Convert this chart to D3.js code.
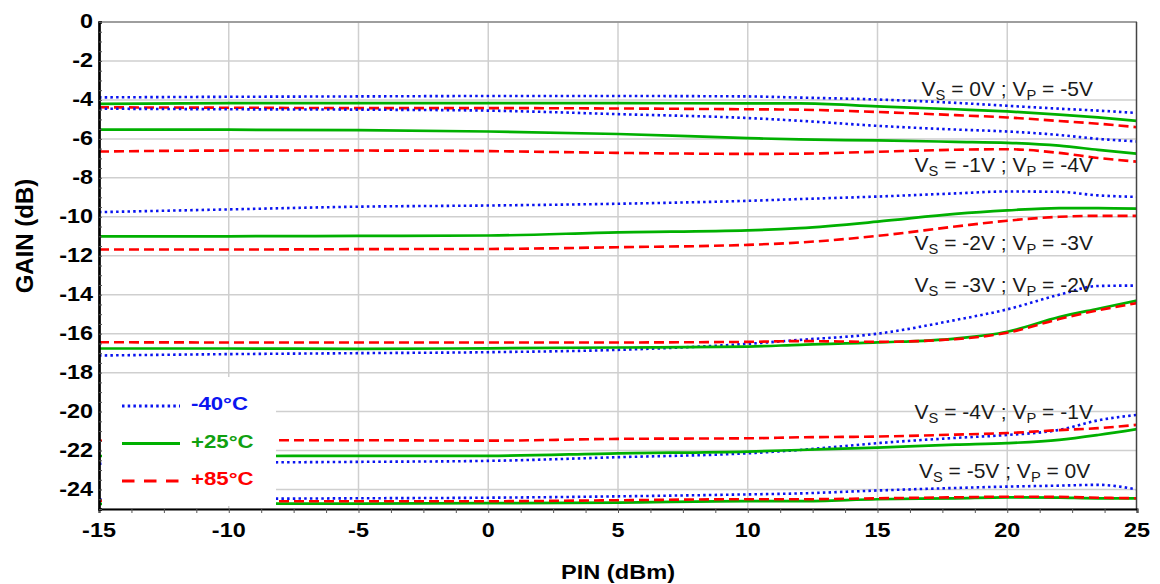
<!DOCTYPE html>
<html>
<head>
<meta charset="utf-8">
<script src="https://cdn.jsdelivr.net/npm/d3@7"></script>
<style>
  html, body { margin: 0; padding: 0; background: #fff; }
  svg { display: block; }
  text { font-family: "Liberation Sans", Arial, sans-serif; }
</style>
</head>
<body>
<svg id="chart" width="1160" height="584"></svg>
<script>
// ---------- data ----------
const pin = [-15, -10, -5, 0, 5, 10, 12, 15, 18, 20, 22, 23.5, 25];

const xTicks = [-15, -10, -5, 0, 5, 10, 15, 20, 25];
const yTicks = [0, -2, -4, -6, -8, -10, -12, -14, -16, -18, -20, -22, -24];

const temps = ["-40°C", "+25°C", "+85°C"];

// gain (dB) per state, per temperature
const vs0_m40 = [-3.87, -3.84, -3.82, -3.80, -3.80, -3.82, -3.88, -3.98, -4.15, -4.30, -4.45, -4.55, -4.67];
const vs0_p25 = [-4.20, -4.16, -4.16, -4.16, -4.16, -4.18, -4.18, -4.33, -4.48, -4.59, -4.75, -4.90, -5.08];
const vs0_p85 = [-4.38, -4.40, -4.42, -4.42, -4.44, -4.48, -4.50, -4.62, -4.78, -4.90, -5.08, -5.22, -5.40];

const vs1_m40 = [-4.45, -4.48, -4.50, -4.55, -4.73, -4.93, -5.07, -5.33, -5.52, -5.62, -5.80, -6.00, -6.13];
const vs1_p25 = [-5.53, -5.53, -5.55, -5.62, -5.75, -5.96, -6.03, -6.08, -6.15, -6.20, -6.35, -6.56, -6.76];
const vs1_p85 = [-6.65, -6.60, -6.60, -6.63, -6.72, -6.77, -6.76, -6.66, -6.56, -6.53, -6.72, -6.98, -7.17];

const vs2_m40 = [-9.76, -9.62, -9.48, -9.42, -9.33, -9.18, -9.09, -8.96, -8.80, -8.70, -8.72, -8.90, -8.98];
const vs2_p25 = [-11.00, -11.00, -10.98, -10.96, -10.80, -10.70, -10.58, -10.25, -9.85, -9.67, -9.55, -9.55, -9.58];
const vs2_p85 = [-11.68, -11.68, -11.66, -11.65, -11.56, -11.44, -11.32, -10.98, -10.50, -10.20, -10.00, -9.95, -9.95];

const vs3_m40 = [-17.12, -17.05, -17.00, -16.95, -16.83, -16.52, -16.32, -16.00, -15.30, -14.75, -14.00, -13.55, -13.53];
const vs3_p25 = [-16.76, -16.76, -16.78, -16.75, -16.71, -16.66, -16.57, -16.45, -16.25, -15.90, -15.15, -14.72, -14.30];
const vs3_p85 = [-16.44, -16.45, -16.45, -16.45, -16.45, -16.42, -16.38, -16.42, -16.28, -15.95, -15.25, -14.80, -14.43];

const vs4_m40 = [-22.68, -22.62, -22.58, -22.53, -22.34, -22.14, -21.97, -21.62, -21.35, -21.20, -20.94, -20.45, -20.17];
const vs4_p25 = [-22.28, -22.28, -22.27, -22.27, -22.14, -22.05, -21.97, -21.85, -21.70, -21.62, -21.45, -21.20, -20.90];
const vs4_p85 = [-21.50, -21.48, -21.47, -21.49, -21.40, -21.37, -21.32, -21.28, -21.18, -21.10, -20.95, -20.85, -20.68];

const vs5_m40 = [-24.50, -24.48, -24.45, -24.42, -24.35, -24.25, -24.20, -24.05, -23.92, -23.85, -23.80, -23.76, -24.00];
const vs5_p25 = [-24.74, -24.73, -24.72, -24.70, -24.67, -24.60, -24.60, -24.50, -24.45, -24.40, -24.42, -24.45, -24.45];
const vs5_p85 = [-24.57, -24.60, -24.60, -24.60, -24.55, -24.50, -24.50, -24.45, -24.40, -24.37, -24.38, -24.42, -24.45];

// state labels: Vs, Vp, and anchor point (PIN dBm, gain dB) of the label's right end / baseline
const stateVs = ["0V", "-1V", "-2V", "-3V", "-4V", "-5V"];
const stateVp = ["-5V", "-4V", "-3V", "-2V", "-1V", "0V"];
const labelX  = [23.3, 23.3, 23.3, 23.3, 23.3, 23.2];
const labelY  = [-3.79, -7.69, -11.69, -13.85, -20.37, -23.40];

const series = [
  [vs0_m40, vs0_p25, vs0_p85],
  [vs1_m40, vs1_p25, vs1_p85],
  [vs2_m40, vs2_p25, vs2_p85],
  [vs3_m40, vs3_p25, vs3_p85],
  [vs4_m40, vs4_p25, vs4_p85],
  [vs5_m40, vs5_p25, vs5_p85]
];

// ---------- styles ----------
const colors = ["#0a14f0", "#00b000", "#ff0000"];
const dashes = ["2.5,3.2", null, "10,5"];
const widths = [2.6, 2.7, 2.6];
const legendDashes = ["2.5,3.2", null, "12.5,9.5"];
const SX = 1.2; // horizontal stretch of bold labels

// ---------- layout ----------
const svg = d3.select("#chart");
const L = 99, R = 1137, T = 22, B = 509;
const x = d3.scaleLinear().domain([-15, 25]).range([L, R]);
const y = d3.scaleLinear().domain([-25, 0]).range([B, T]);

svg.append("defs").append("clipPath").attr("id", "clip")
  .append("rect").attr("x", L).attr("y", T).attr("width", R - L).attr("height", B - T);

// gridlines
const grid = svg.append("g");
grid.selectAll("line.v").data(xTicks.filter(d => d > -15 && d < 25)).join("line")
  .attr("x1", d => x(d)).attr("x2", d => x(d)).attr("y1", T).attr("y2", B)
  .attr("stroke", "#cfcfcf").attr("stroke-width", 1.5);
grid.selectAll("line.h").data(yTicks.concat([-25])).join("line")
  .attr("x1", L).attr("x2", R).attr("y1", d => y(d)).attr("y2", d => y(d))
  .attr("stroke", "#cfcfcf").attr("stroke-width", 1.5);

// curves
const line = d3.line().x((d, i) => x(pin[i])).y(d => y(d)).curve(d3.curveMonotoneX);
const curves = svg.append("g").attr("clip-path", "url(#clip)");
series.forEach(group => {
  group.forEach((vals, t) => {
    curves.append("path").datum(vals).attr("d", line)
      .attr("fill", "none").attr("stroke", colors[t])
      .attr("stroke-width", widths[t])
      .attr("stroke-dasharray", dashes[t]);
  });
});

// legend box
svg.append("rect").attr("x", 102).attr("y", 377).attr("width", 174).attr("height", 129)
  .attr("fill", "#fff");
const legY = [406, 443.5, 481];
temps.forEach((t, i) => {
  svg.append("line").attr("x1", 122).attr("x2", 180).attr("y1", legY[i]).attr("y2", legY[i])
    .attr("stroke", colors[i]).attr("stroke-width", 2.8)
    .attr("stroke-dasharray", legendDashes[i]);
  svg.append("text").attr("transform", `translate(191,${legY[i] + 4}) scale(1.17,1)`)
    .attr("font-size", 19).attr("font-weight", "bold")
    .attr("fill", i === 1 ? "#10a010" : colors[i]).text(t);
});

// state annotations
stateVs.forEach((vs, i) => {
  const tx = svg.append("text")
    .attr("transform", `translate(${x(labelX[i])},${y(labelY[i])}) scale(1.05,1)`)
    .attr("text-anchor", "end").attr("font-size", 20).attr("fill", "#1a1a1a");
  tx.append("tspan").text("V");
  tx.append("tspan").attr("font-size", 14).attr("dy", 4).text("S");
  tx.append("tspan").attr("dy", -4).text(" = " + vs + " ; V");
  tx.append("tspan").attr("font-size", 14).attr("dy", 4).text("P");
  tx.append("tspan").attr("dy", -4).text(" = " + stateVp[i]);
});

// frame (top + right)
svg.append("line").attr("x1", L).attr("x2", R).attr("y1", T).attr("y2", T)
  .attr("stroke", "#8a8a8a").attr("stroke-width", 1.5);
svg.append("line").attr("x1", R - 0.5).attr("x2", R - 0.5).attr("y1", T).attr("y2", B)
  .attr("stroke", "#444").attr("stroke-width", 1.5);

// axes
const xAxis = d3.axisBottom(x).tickValues(d3.range(-15, 25.01, 1.25))
  .tickSize(4).tickFormat("");
const gx = svg.append("g").attr("transform", `translate(0,${B})`).call(xAxis);
gx.select(".domain").attr("stroke", "#000").attr("stroke-width", 2);
gx.selectAll(".tick line").attr("stroke", "#555").attr("stroke-width", 1);
svg.append("g").selectAll("text").data(xTicks).join("text")
  .attr("transform", d => `translate(${x(d)},537) scale(${SX},1)`)
  .attr("text-anchor", "middle")
  .attr("font-size", 19.5).attr("font-weight", "bold").attr("fill", "#000")
  .text(d => d);

const yAxis = d3.axisLeft(y).tickValues(d3.range(-25, 0.01, 0.5))
  .tickSize(-3).tickFormat("");
const gy = svg.append("g").attr("transform", `translate(${L},0)`).call(yAxis);
gy.select(".domain").attr("stroke", "#000").attr("stroke-width", 2.7);
gy.selectAll(".tick line").attr("stroke", "#555").attr("stroke-width", 1);
svg.append("g").selectAll("text").data(yTicks).join("text")
  .attr("transform", d => `translate(93,${y(d)}) scale(${SX},1)`)
  .attr("text-anchor", "end")
  .attr("dominant-baseline", "central")
  .attr("font-size", 19.5).attr("font-weight", "bold").attr("fill", "#000")
  .text(d => d);

// titles
svg.append("text").attr("transform", `translate(${(L + R) / 2},579) scale(1.18,1)`)
  .attr("text-anchor", "middle")
  .attr("font-size", 20).attr("font-weight", "bold").text("PIN (dBm)");
svg.append("text").attr("transform", `translate(33,236) rotate(-90)`)
  .attr("text-anchor", "middle")
  .attr("font-size", 24).attr("font-weight", "bold").text("GAIN (dB)");
</script>
</body>
</html>
